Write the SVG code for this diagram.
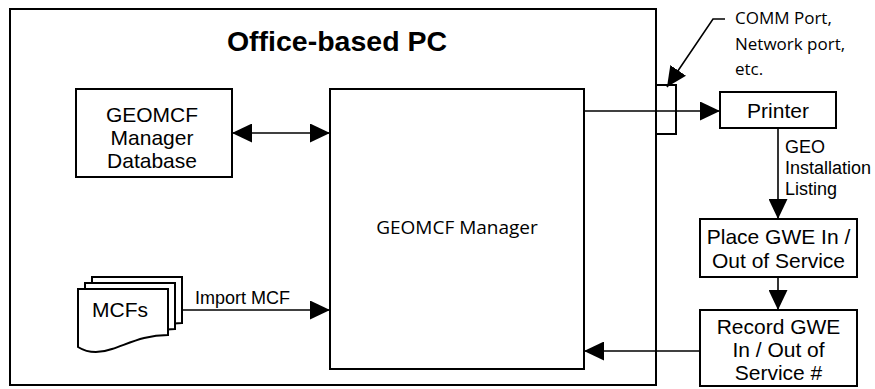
<svg xmlns="http://www.w3.org/2000/svg" width="875" height="389" viewBox="0 0 875 389">
<defs>
<style>
.box{fill:#fff;stroke:#000;stroke-width:2}
.ln{fill:none;stroke:#000;stroke-width:1.6}
.a{font-family:"Liberation Sans",Arial,sans-serif;fill:#000}
.o{font-family:"Open Sans","Noto Sans",sans-serif;fill:#000}
</style>
<marker id="ah" viewBox="0 0 20 19" refX="20" refY="9.5" markerWidth="20" markerHeight="19" markerUnits="userSpaceOnUse" orient="auto-start-reverse">
<path d="M0,0 L20,9.5 L0,19 z" fill="#000"/>
</marker>
</defs>
<g id="office-pc">
<rect class="box" x="10" y="9" width="646" height="376" fill="none"/>
<text class="a" x="337" y="51" font-size="28.5" font-weight="bold" text-anchor="middle">Office-based PC</text>
</g>
<g id="db">
<rect class="box" x="76" y="89" width="156" height="88"/>
<text class="a" font-size="21" text-anchor="middle"><tspan x="152" y="122">GEOMCF</tspan><tspan x="152" y="145">Manager</tspan><tspan x="152" y="168">Database</tspan></text>
</g>
<g id="manager">
<rect class="box" x="330" y="89" width="254" height="280"/>
<text class="o" x="457" y="234" font-size="19" text-anchor="middle">GEOMCF Manager</text>
</g>
<g id="mcfs">
<path class="box" d="M92,277 H182 V323 C159,323 144,331 126,337 C112,342 100,340 92,335 Z"/>
<path class="box" d="M85,283 H175 V329 C152,329 137,337 119,343 C105,348 93,346 85,341 Z"/>
<path class="box" d="M78,289 H168 V335 C145,335 130,343 112,349 C98,354 86,352 78,347 Z"/>
<text class="a" x="92" y="317" font-size="21">MCFs</text>
</g>
<g id="port">
<rect class="box" x="656" y="85" width="20" height="49" fill="none"/>
</g>
<g id="port-label">
<text class="o" font-size="17"><tspan x="735" y="24">COMM Port,</tspan><tspan x="735" y="50">Network port,</tspan><tspan x="735" y="75">etc.</tspan></text>
</g>
<g id="printer">
<rect class="box" x="720" y="92" width="116" height="36"/>
<text class="a" x="778" y="118" font-size="21" text-anchor="middle">Printer</text>
</g>
<g id="place">
<rect class="box" x="700" y="219" width="157" height="58"/>
<text class="a" font-size="21" text-anchor="middle"><tspan x="778.5" y="244">Place GWE In /</tspan><tspan x="778.5" y="268">Out of Service</tspan></text>
</g>
<g id="record">
<rect class="box" x="700" y="310" width="157" height="76"/>
<text class="a" font-size="21" text-anchor="middle"><tspan x="778.5" y="334">Record GWE</tspan><tspan x="778.5" y="357">In / Out of</tspan><tspan x="778.5" y="380">Service #</tspan></text>
</g>
<g id="connectors">
<line class="ln" x1="232" y1="133" x2="330" y2="133" marker-start="url(#ah)" marker-end="url(#ah)"/>
<line class="ln" x1="182" y1="310" x2="330" y2="310" marker-end="url(#ah)"/>
<text class="a" x="195" y="304" font-size="18">Import MCF</text>
<line class="ln" x1="584" y1="111" x2="720" y2="111" marker-end="url(#ah)"/>
<polyline class="ln" points="725,19 713,19 667,87" marker-end="url(#ah)"/>
<line class="ln" x1="778" y1="128" x2="778" y2="219" marker-end="url(#ah)"/>
<text class="a" font-size="18"><tspan x="785" y="153">GEO</tspan><tspan x="785" y="174">Installation</tspan><tspan x="785" y="195">Listing</tspan></text>
<line class="ln" x1="778" y1="277" x2="778" y2="310" marker-end="url(#ah)"/>
<line class="ln" x1="700" y1="351" x2="584" y2="351" marker-end="url(#ah)"/>
</g>
</svg>
